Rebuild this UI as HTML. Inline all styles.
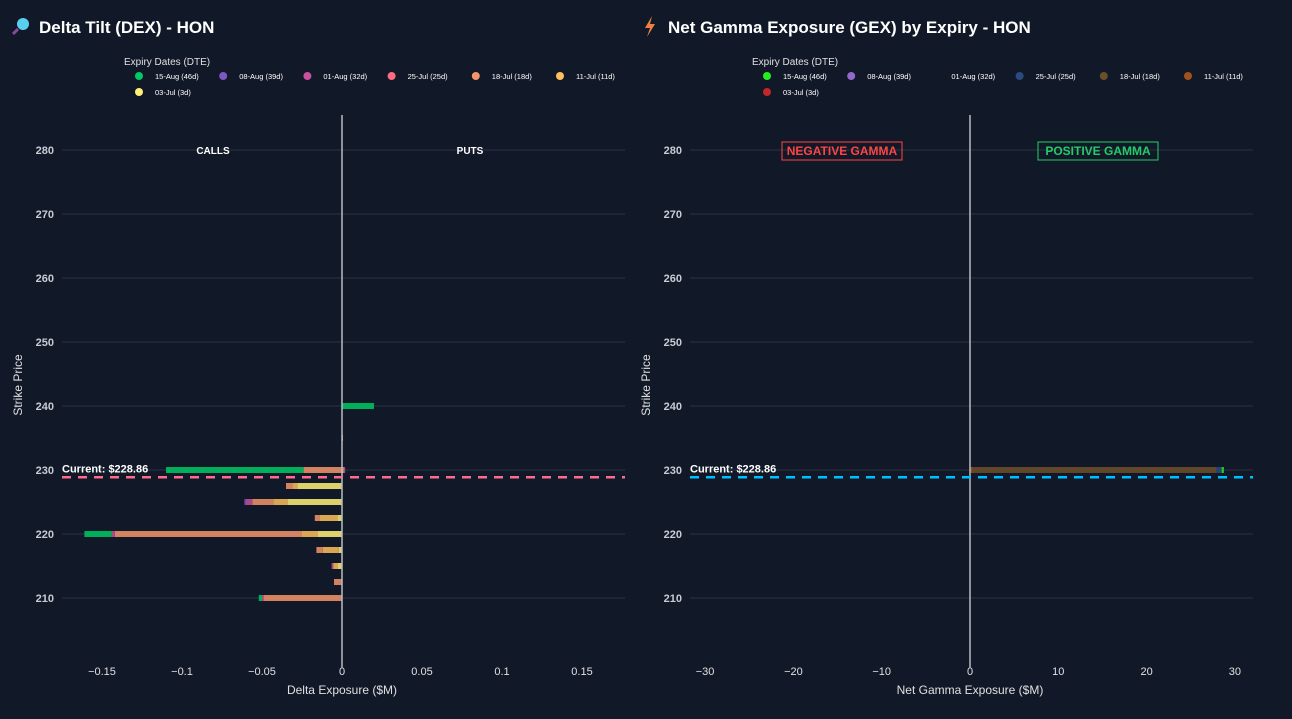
<!DOCTYPE html>
<html><head><meta charset="utf-8"><style>
html,body{margin:0;padding:0;background:#111827;}
svg{display:block;font-family:"Liberation Sans",Arial,sans-serif;}
</style></head><body>
<svg id="s" width="1292" height="719" viewBox="0 0 1292 719" xmlns="http://www.w3.org/2000/svg">
<rect width="1292" height="719" fill="#111827"/>
<g>
<circle cx="23" cy="24" r="6" fill="#5ad0f0"/><line x1="18" y1="29" x2="13" y2="34" stroke="#8a4a9a" stroke-width="3"/>
<text x="39" y="33" font-size="17" font-weight="bold" fill="#fff">Delta Tilt (DEX) - HON</text></g>
<g>
<path d="M652 16 L645 28 L650 28 L647 37 L655 24 L650 24 Z" fill="#f08040"/>
<text x="668" y="33" font-size="17" font-weight="bold" fill="#fff">Net Gamma Exposure (GEX) by Expiry - HON</text></g>
<g id="dex"></g><g id="gex"></g>
</svg>
<script>
const expiries=["15-Aug (46d)","08-Aug (39d)","01-Aug (32d)","25-Jul (25d)","18-Jul (18d)","11-Jul (11d)","03-Jul (3d)"];
const dexColors=["#00cc66","#7e57c2","#c8509e","#ff6b81","#f4956a","#ffc05a","#fff176"];
const gexColors=["#22ee22","#9467cd","#111827","#2a4a80","#6b4f2a","#a0521d","#c0282a"];
const strikes=[240,235,230,227.5,225,222.5,220,217.5,215,212.5,210];
const dex15Aug=[0.02,0,-0.086,0,0,0,-0.017,0,0,0,-0.002];
const dex08Aug=[0,0,0,0,-0.001,0,0,0,0,0,0];
const dex01Aug=[0,0,0.001,0,-0.004,0,-0.002,0,-0.001,0,-0.001];
const dex25Jul=[0,0,0,0,0,0,0,0,0,0,0];
const dex18Jul=[0,0.0005,-0.024,-0.004,-0.013,-0.003,-0.117,-0.004,0,-0.005,-0.049];
const dex11Jul=[0,0,0.001,-0.003,-0.009,-0.011,-0.01,-0.01,-0.003,0,0];
const dex03Jul=[0,0,0,-0.028,-0.034,-0.003,-0.015,-0.002,-0.0025,0,0];
const gex15Aug=[0,0,0.25,0,0,0,0,0,0,0,0];
const gex08Aug=[0,0,0,0,0,0,0,0,0,0,0];
const gex01Aug=[0,0,0,0,0,0,0,0,0,0,0];
const gex25Jul=[0,0,0.6,0,0,0,0,0,0,0,0];
const gex18Jul=[0,0,27.6,0,0,0,0,0,0,0,0];
const gex11Jul=[0,0,0.3,0,0,0,0,0,0,0,0];
const gex03Jul=[0,0,0,0,0,0,0,0,0,0,0];
const dexTicks=[-0.15,-0.1,-0.05,0,0.05,0.1,0.15];
const dexTickLabels=["\u22120.15","\u22120.1","\u22120.05","0","0.05","0.1","0.15"];
const gexTicks=[-30,-20,-10,0,10,20,30];
const gexTickLabels=["\u221230","\u221220","\u221210","0","10","20","30"];
const yTicks=[210,220,230,240,250,260,270,280];
const currentPrice=228.86;
const NS="http://www.w3.org/2000/svg";
function mk(p,t,a){const e=document.createElementNS(NS,t);for(const k in a)e.setAttribute(k,a[k]);p.appendChild(e);return e;}
function yScale(v){return 150+(280-v)*6.4;}
function chart(g,o){
  const x=v=>o.x0+v*o.k;
  yTicks.forEach(t=>{
    const l=mk(g,"line",{x1:o.L,x2:o.R,y1:yScale(t),y2:yScale(t),stroke:"#2a3444","stroke-width":1});
    
    
    const tx=mk(g,"text",{x:o.L-8,y:yScale(t)+4,"text-anchor":"end","font-size":11,"font-weight":"bold",fill:"#c8ccd4"});
    tx.textContent=t;
    
    
  });
  o.ticks.forEach((t,i)=>{
    const tx=mk(g,"text",{x:x(t),y:675,"text-anchor":"middle","font-size":11,fill:"#e0e0e0"});
    tx.textContent=o.labels[i];
    
    
  });
  strikes.forEach((s,si)=>{
    let pos=0,neg=0;
    for(let e=o.series.length-1;e>=0;e--){
      const v=o.series[e][si]; if(!v)continue;
      let a,b; if(v>0){a=pos;pos+=v;b=pos;}else{a=neg;neg+=v;b=neg;}
      const r=mk(g,"rect",{x:Math.min(x(a),x(b)),y:yScale(s)-3,width:Math.max(Math.abs(x(b)-x(a)),1),height:6,fill:o.colors[e],"fill-opacity":o.op});
      
      
    }
  });
  const z=mk(g,"line",{x1:x(0),x2:x(0),y1:115,y2:668,stroke:"#b8bcc4","stroke-width":1.5});
  
  
  const c=mk(g,"line",{x1:o.L,x2:o.R,y1:yScale(currentPrice),y2:yScale(currentPrice),stroke:o.cur,"stroke-width":2.5,"stroke-dasharray":"9,7"});
  
  
  const ct=mk(g,"text",{x:o.L,y:yScale(currentPrice)-5,"font-size":11,"font-weight":"bold",fill:"#fff"});
  ct.textContent="Current: $"+currentPrice.toFixed(2);
  
  
  const xt=mk(g,"text",{x:x(0),y:694,"text-anchor":"middle","font-size":12,fill:"#e0e0e0"});
  xt.textContent=o.xtitle;
  
  
  const yt=mk(g,"text",{x:o.L-40,y:385,"text-anchor":"middle","font-size":12,fill:"#e0e0e0",transform:"rotate(-90 "+(o.L-40)+" 385)"});
  yt.textContent="Strike Price";
  
  
  const lt=mk(g,"text",{x:o.lx-15,y:65,"font-size":10,fill:"#e0e0e0"});
  lt.textContent="Expiry Dates (DTE)";
  
  
  expiries.forEach((ex,i)=>{
    const cx=o.lx+(i%6)*84.2, cy=i<6?76:92;
    const lg=mk(g,"g",{});
    
    
    mk(lg,"circle",{cx:cx,cy:cy,r:4,fill:o.colors[i]});
    const t=mk(lg,"text",{x:cx+16,y:cy+3,"font-size":7.5,fill:"#fff"});
    t.textContent=ex;
  });
}
const dex=document.getElementById("dex");


chart(dex,{x0:342,k:1600,L:62,R:625,ticks:dexTicks,labels:dexTickLabels,series:[dex15Aug,dex08Aug,dex01Aug,dex25Jul,dex18Jul,dex11Jul,dex03Jul],colors:["#00c864","#7e57c2","#c8509e","#ff6b81","#f4956a","#ffc05a","#fff176"],op:0.85,cur:"#ff6b8a",xtitle:"Delta Exposure ($M)",lx:139});
const gex=document.getElementById("gex");


chart(gex,{x0:970,k:8.83,L:690,R:1253,ticks:gexTicks,labels:gexTickLabels,series:[gex15Aug,gex08Aug,gex01Aug,gex25Jul,gex18Jul,gex11Jul,gex03Jul],colors:gexColors,op:0.85,cur:"#00bfff",xtitle:"Net Gamma Exposure ($M)",lx:767});
function ann(p,txt,x,y,col,box,name){
  if(box){mk(p,"rect",{x:x-60,y:y-9,width:120,height:18,fill:"none",stroke:col,"stroke-width":1});}
  const t=mk(p,"text",{x:x,y:y+4,"text-anchor":"middle","font-size":box?12:10,"font-weight":"bold",fill:col});
  t.textContent=txt;
  
  
}
ann(dex,"CALLS",213,150,"#ffffff",false,"calls-label");
ann(dex,"PUTS",470,150,"#ffffff",false,"puts-label");
ann(gex,"NEGATIVE GAMMA",842,151,"#ff4444",true,"negative-gamma-label");
ann(gex,"POSITIVE GAMMA",1098,151,"#22cc66",true,"positive-gamma-label");
</script>
</body></html>
